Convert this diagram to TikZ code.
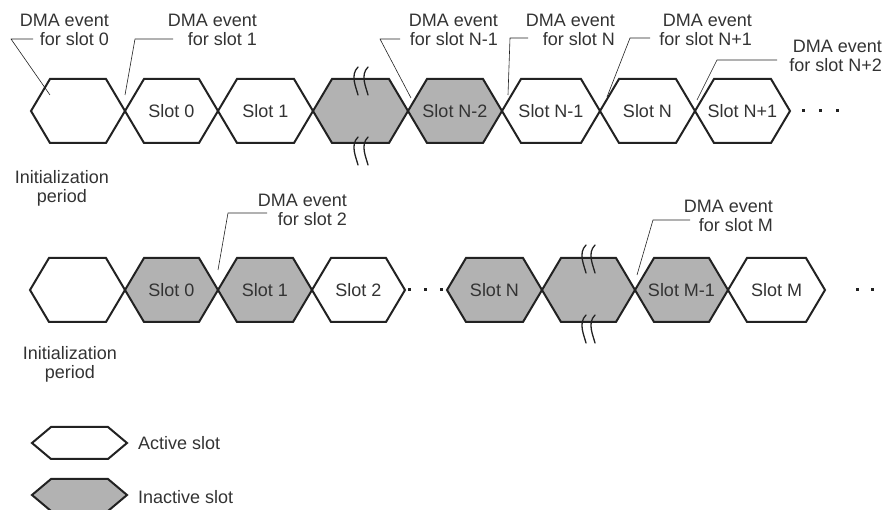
\documentclass[tikz,border=0pt]{standalone}
\usepackage{fontspec}
\setmainfont{Liberation Sans}
\definecolor{slotfill}{RGB}{178,178,178}
\definecolor{ink}{RGB}{34,34,34}
\definecolor{txtgray}{RGB}{51,51,51}
\tikzset{
	slot/.style={draw=ink, line width=2pt, line join=miter},
	slottext/.style={inner sep=0pt, text=txtgray},
	leader/.style={draw=ink, line width=0.6pt},
	brk/.style={draw=ink, line width=1.3pt, line cap=round},
	lbl/.style={align=right, anchor=north east, inner sep=0pt, text=txtgray},
	initlbl/.style={align=center, anchor=north, inner sep=0pt, text=txtgray},
}

\begin{document}
\begin{tikzpicture}[x=1pt, y=-1pt, line join=round, font=\fontsize{18}{19}\selectfont]
	\useasboundingbox (0,0) rectangle (884,510);

	% HÀNG 1: slot 0 ... N+1
	\foreach \xa/\xb/\fc/\txt/\nm in {31/125/white//ia, 125/218/white/Slot 0/a0, 218/313/white/Slot 1/a1,
		313/408/slotfill//ab, 408/502/slotfill/Slot N-2/a2, 502/600/white/Slot N-1/a3,
		600/695/white/Slot N/a4, 695/790/white/Slot N+1/a5}{
		\filldraw[slot, fill=\fc] (\xa,111) -- (\xa+19,79) -- (\xb-19,79) -- (\xb,111)
			-- (\xb-19,143) -- (\xa+19,143) -- cycle;
		\node[slottext] (\nm) at ({(\xa+\xb)/2},111) {\txt};
	}
	\foreach \x in {803,820,837}
		\fill[ink] (\x-1.5,109.5) rectangle ++(3,3);
	% dấu ngắt
	\foreach \x in {355,365}{
		\draw[brk] (\x+3,67) .. controls (\x-5,75) and (\x+1,87) .. (\x+3,95);
		\draw[brk] (\x+3,137) .. controls (\x-5,145) and (\x+1,157) .. (\x+3,165);
	}
	\node[initlbl] (inita) at (62,170) {Initialization\\period};

	% nhãn DMA hàng 1
	\node[lbl] (la0) at (109,14) {DMA event\\for slot 0};
	\node[lbl] (la1) at (257,14) {DMA event\\for slot 1};
	\node[lbl] (la2) at (498,14) {DMA event\\for slot N-1};
	\node[lbl] (la3) at (615,14) {DMA event\\for slot N};
	\node[lbl] (la4) at (752,14) {DMA event\\for slot N+1};
	\node[lbl] (la5) at (882,40) {DMA event\\for slot N+2};
	\draw[leader] (33,39) -- (11,39) -- (50,95);
	\draw[leader] (173,39) -- (135,39) -- (125,95);
	\draw[leader] (400,39) -- (380,39) -- (411,98);
	\draw[leader] (528,38) -- (510,38) -- (508,95);
	\draw[leader] (650,38) -- (630,38) -- (607,97);
	\draw[leader] (777,60) -- (717,60) -- (697,100);

	% HÀNG 2: slot 0 ... M
	\foreach \xa/\xb/\fc/\txt/\nm in {30/125/white//ib, 125/218/slotfill/Slot 0/b0, 218/312/slotfill/Slot 1/b1,
		312/405/white/Slot 2/b2, 447/542/slotfill/Slot N/b3, 542/635/slotfill//bb,
		635/728/slotfill/Slot M-1/b4, 728/825/white/Slot M/b5}{
		\filldraw[slot, fill=\fc] (\xa,290) -- (\xa+19,258) -- (\xb-19,258) -- (\xb,290)
			-- (\xb-19,322) -- (\xa+19,322) -- cycle;
		\node[slottext] (\nm) at ({(\xa+\xb)/2},290) {\txt};
	}
	\foreach \x in {409,425,441,857,872}
		\fill[ink] (\x-1.5,288.5) rectangle ++(3,3);
	\foreach \x in {583,592}{
		\draw[brk] (\x+3,245) .. controls (\x-5,253) and (\x+1,265) .. (\x+3,273);
		\draw[brk] (\x+3,315) .. controls (\x-5,323) and (\x+1,335) .. (\x+3,343);
	}
	\node[initlbl] (initb) at (70,346) {Initialization\\period};

	% nhãn DMA hàng 2
	\node[lbl] (lb0) at (347,194) {DMA event\\for slot 2};
	\node[lbl] (lb1) at (773,200) {DMA event\\for slot M};
	\draw[leader] (267,213) -- (228,213) -- (218,270);
	\draw[leader] (690,220) -- (653,220) -- (637,275);

	% CHÚ THÍCH
	\filldraw[slot, fill=white] (32,443) -- (51,427) -- (108,427) -- (127,443)
		-- (108,459) -- (51,459) -- cycle;
	\node[slottext, anchor=west] (kact) at (138,443) {Active slot};
	\filldraw[slot, fill=slotfill] (32,495) -- (51,479) -- (108,479) -- (127,495)
		-- (108,511) -- (51,511) -- cycle;
	\node[slottext, anchor=west] (kina) at (138,497) {Inactive slot};
\end{tikzpicture}
\end{document}
